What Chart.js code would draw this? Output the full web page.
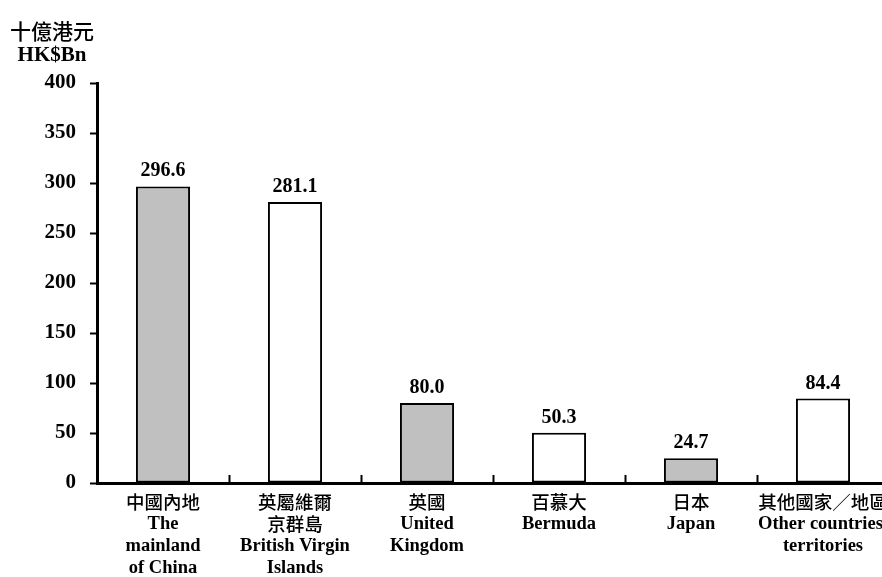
<!DOCTYPE html>
<html><head><meta charset="utf-8">
<script src="https://cdn.jsdelivr.net/npm/chart.js@4.4.0/dist/chart.umd.min.js"></script>
<style>
html,body{margin:0;padding:0;background:#fff;overflow:hidden;width:882px;height:577px}
#wrap{position:relative;width:900px;height:577px}
canvas{position:absolute;left:0;top:0}
.t{position:absolute;left:0;width:104px;text-align:center;color:#000;white-space:nowrap;z-index:2}
#t1{top:17px;font:500 21px "Noto Sans CJK TC";line-height:26px}
#t2{top:42px;font:bold 21px "Liberation Serif";line-height:24px}
</style></head>
<body><div id="wrap"><canvas id="c" width="900" height="577"></canvas><div class="t" id="t1">十億港元</div><div class="t" id="t2">HK$Bn</div></div>
<script>
// ---- data ----
const categoriesZh = [['中國內地'], ['英屬維爾', '京群島'], ['英國'], ['百慕大'], ['日本'], ['其他國家／地區']];
const categoriesEn = [['', 'The', 'mainland', 'of China'], ['', '', 'British Virgin', 'Islands'], ['', 'United', 'Kingdom'], ['', 'Bermuda'], ['', 'Japan'], ['', 'Other countries/', 'territories']];
const values = [296.6, 281.1, 80.0, 50.3, 24.7, 84.4];
const yMin = 0, yMax = 400, yStep = 50;
// ---- styles ----
const barColors = ['#c0c0c0', '#ffffff', '#c0c0c0', '#ffffff', '#c0c0c0', '#ffffff'];
const serifBold = (size) => ({family: '"Liberation Serif", "Times New Roman", serif', weight: 'bold', size});

const valueLabels = {
  id: 'valueLabels',
  afterDatasetsDraw(chart) {
    const ctx = chart.ctx;
    const meta = chart.getDatasetMeta(0);
    ctx.save();
    ctx.font = 'bold 20px "Liberation Serif"';
    ctx.fillStyle = '#000';
    ctx.textAlign = 'center';
    ctx.textBaseline = 'alphabetic';
    meta.data.forEach((el, i) => {
      ctx.fillText(values[i].toFixed(1), el.x, el.y - 10);
    });
    ctx.restore();
  }
};

// let the Chinese label axis share the label band of the English one
const shareLabelBand = {
  id: 'shareLabelBand',
  afterLayout(chart) {
    const x = chart.scales.x, x2 = chart.scales.x2;
    x.bottom = x2.bottom;
  }
};

function noSidePadding(s) { s.paddingLeft = 0; s.paddingRight = 0; }

new Chart(document.getElementById('c'), {
  type: 'bar',
  data: {
    labels: categoriesZh,
    datasets: [{
      data: values,
      backgroundColor: barColors,
      borderColor: '#000',
      borderWidth: 2,
      borderSkipped: false,
      barPercentage: 0.41,
      categoryPercentage: 1.0
    }]
  },
  options: {
    responsive: false,
    devicePixelRatio: 1,
    animation: false,
    layout: {padding: {left: 0, top: 83, right: 11, bottom: 0}},
    plugins: {legend: {display: false}, tooltip: {enabled: false}, title: {display: false}},
    scales: {
      x: {
        type: 'category',
        position: 'bottom',
        offset: true,
        grid: {offset: true, drawOnChartArea: false, drawTicks: true, tickLength: -8, tickWidth: 2, tickColor: '#000', color: '#000'},
        border: {display: true, color: '#000', width: 3},
        ticks: {
          autoSkip: false, maxRotation: 0, minRotation: 0, color: '#000', padding: 16,
          font: {family: '"Noto Sans CJK TC", sans-serif', size: 18.5, weight: 500, lineHeight: '22px'}
        },
        afterFit(s) { s.height = 0; noSidePadding(s); }
      },
      x2: {
        type: 'category',
        position: 'bottom',
        labels: categoriesEn,
        offset: true,
        grid: {display: false, drawTicks: false},
        border: {display: false},
        ticks: {
          autoSkip: false, maxRotation: 0, minRotation: 0, color: '#000', padding: 8,
          font: Object.assign(serifBold(18.5), {lineHeight: '22px'})
        },
        afterFit(s) { s.height = 94; noSidePadding(s); }
      },
      y: {
        min: yMin, max: yMax,
        ticks: {stepSize: yStep, color: '#000', padding: 14, font: serifBold(21)},
        grid: {drawOnChartArea: false, tickLength: 7, tickWidth: 2, tickColor: '#000', color: '#000'},
        border: {display: true, color: '#000', width: 3},
        afterFit(s) { s.width = 97; }
      }
    }
  },
  plugins: [valueLabels, shareLabelBand]
});
</script>
</body></html>
